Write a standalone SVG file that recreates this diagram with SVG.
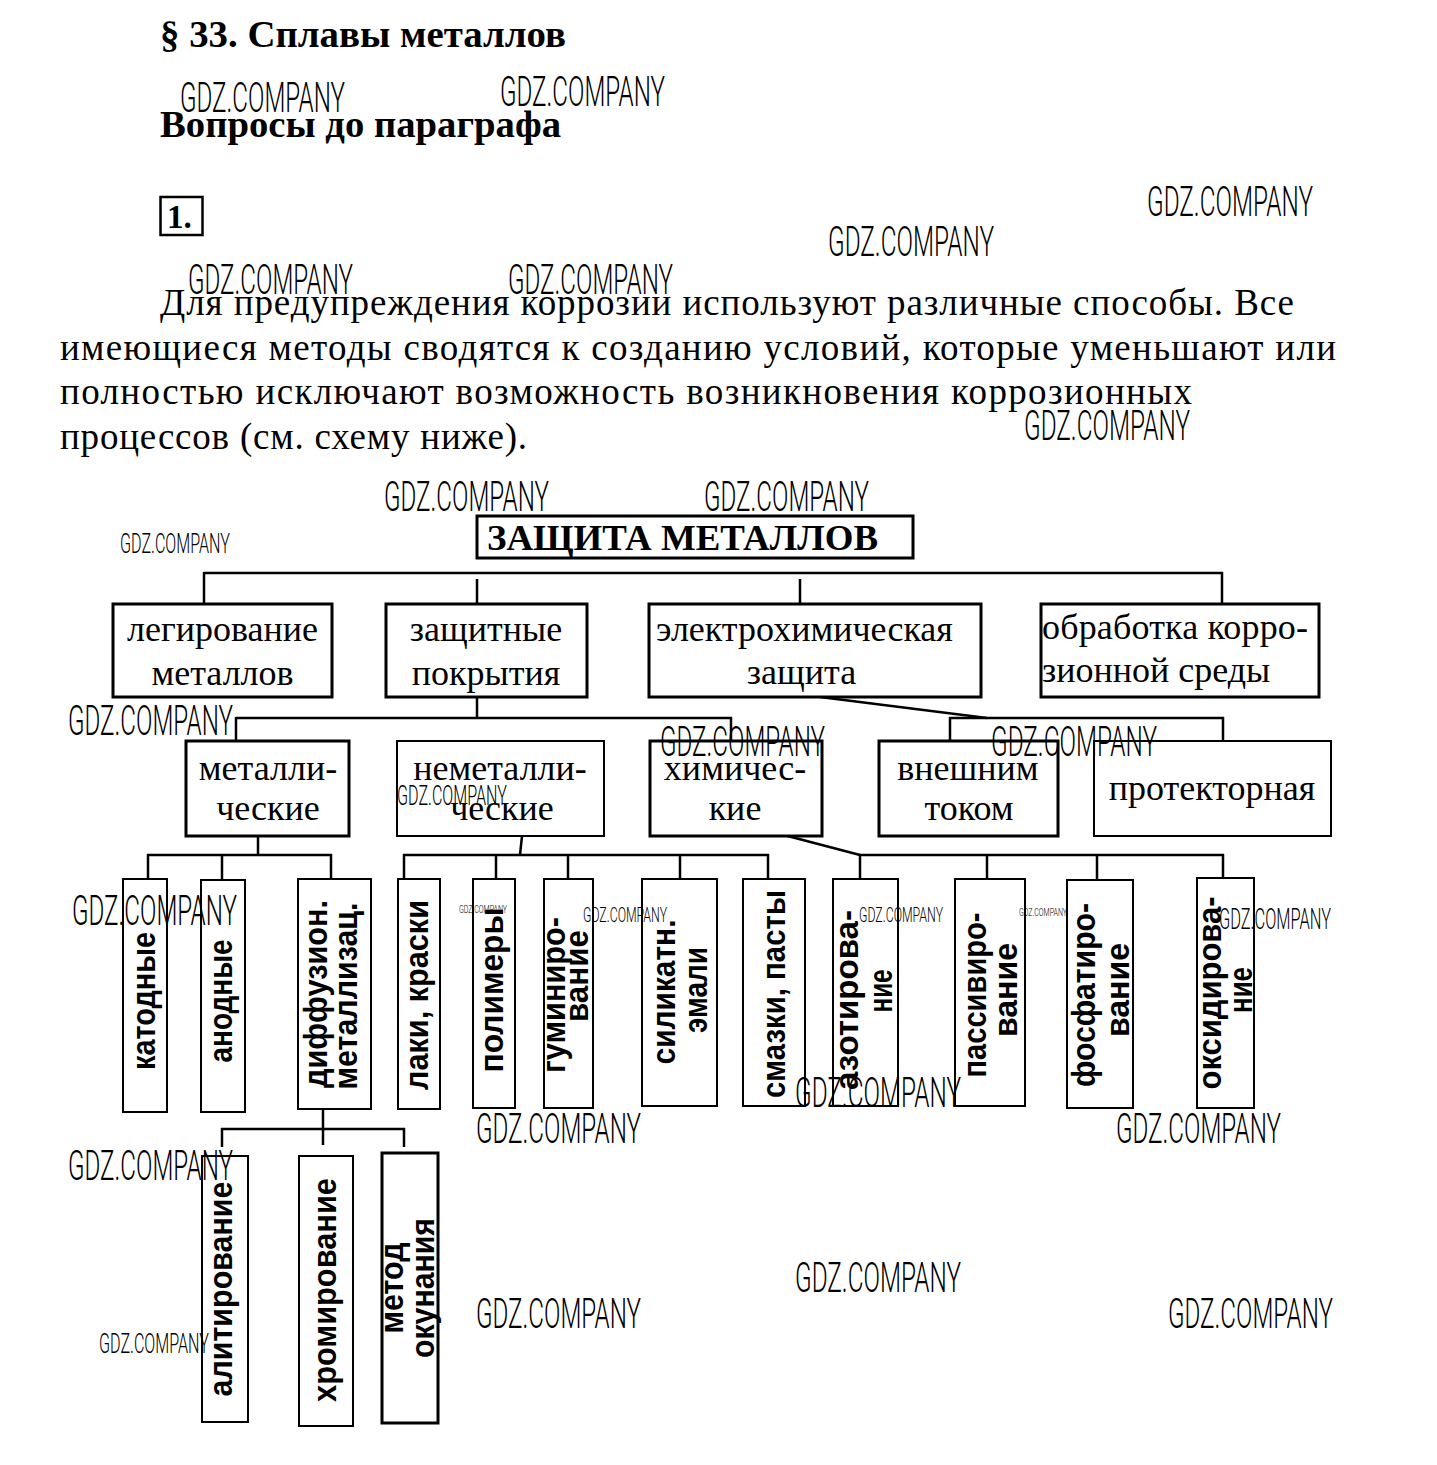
<svg xmlns="http://www.w3.org/2000/svg" width="1437" height="1465" viewBox="0 0 1437 1465">
<style>
.bg{fill:#fff}
.box{fill:#fff;stroke:#000;stroke-width:3}
.thin{stroke-width:2}
.conn line,.conn polyline{stroke:#000;stroke-width:2.5;fill:none}
.h{font-family:"Liberation Serif","Times New Roman",serif;font-weight:bold;fill:#000}
.p{font-family:"Liberation Serif","Times New Roman",serif;font-size:37px;fill:#000}
.t1{font-family:"Liberation Serif","Times New Roman",serif;font-size:36px;fill:#000;text-anchor:middle}
.tv{font-family:"Liberation Sans",Arial,sans-serif;font-weight:bold;font-size:33px;fill:#000;text-anchor:middle}
.wm{font-family:Roboto,"Liberation Sans",sans-serif;font-weight:300;fill:#000}
</style>
<rect class="bg" x="0" y="0" width="1437" height="1465"/>

<g id="heading">
<text class="h" x="160" y="47" font-size="37" textLength="406" lengthAdjust="spacingAndGlyphs">§ 33. Сплавы металлов</text>
<text class="h" x="160" y="137" font-size="37" textLength="401" lengthAdjust="spacingAndGlyphs">Вопросы до параграфа</text>
<rect x="160.5" y="197" width="42" height="38" fill="none" stroke="#000" stroke-width="2.5"/>
<text class="h" x="167" y="228" font-size="33" fill="#0a1030">1.</text>
</g>

<g id="paragraph">
<text class="p" x="160" y="315" textLength="1134" lengthAdjust="spacing">Для предупреждения коррозии используют различные способы. Все</text>
<text class="p" x="60" y="360" textLength="1276" lengthAdjust="spacing">имеющиеся методы сводятся к созданию условий, которые уменьшают или</text>
<text class="p" x="60" y="404" textLength="1132" lengthAdjust="spacing">полностью исключают возможность возникновения коррозионных</text>
<text class="p" x="60" y="449" textLength="467" lengthAdjust="spacing">процессов (см. схему ниже).</text>
</g>

<g id="connectors" class="conn">
<line x1="204" y1="573" x2="1223" y2="573"/>
<line x1="204" y1="572" x2="204" y2="604"/>
<line x1="477" y1="579" x2="477" y2="604"/>
<line x1="800" y1="579" x2="800" y2="604"/>
<line x1="1222" y1="572" x2="1222" y2="604"/>

<line x1="477" y1="697" x2="477" y2="718"/>
<line x1="236" y1="718" x2="732" y2="718"/>
<line x1="236" y1="717" x2="236" y2="741"/>
<line x1="731" y1="717" x2="731" y2="741"/>
<line x1="820" y1="697" x2="987" y2="718"/>
<line x1="949" y1="718" x2="1224" y2="718"/>
<line x1="950" y1="717" x2="950" y2="741"/>
<line x1="1223" y1="717" x2="1223" y2="741"/>

<line x1="258" y1="836" x2="258" y2="855"/>
<line x1="147" y1="855" x2="332" y2="855"/>
<line x1="148" y1="854" x2="148" y2="879"/>
<line x1="222" y1="854" x2="222" y2="879"/>
<line x1="331" y1="854" x2="331" y2="879"/>

<line x1="522" y1="836" x2="520" y2="855"/>
<line x1="403" y1="855" x2="769" y2="855"/>
<line x1="404" y1="854" x2="404" y2="879"/>
<line x1="496" y1="854" x2="496" y2="879"/>
<line x1="568" y1="854" x2="568" y2="879"/>
<line x1="680" y1="854" x2="680" y2="879"/>
<line x1="768" y1="854" x2="768" y2="879"/>

<line x1="780" y1="834" x2="860" y2="855"/>
<line x1="859" y1="855" x2="1224" y2="855"/>
<line x1="860" y1="854" x2="860" y2="879"/>
<line x1="987" y1="854" x2="987" y2="879"/>
<line x1="1097" y1="854" x2="1097" y2="879"/>
<line x1="1223" y1="854" x2="1223" y2="879"/>

<line x1="323" y1="1109" x2="323" y2="1145"/>
<line x1="221" y1="1129" x2="405" y2="1129"/>
<line x1="222" y1="1128" x2="222" y2="1147"/>
<line x1="404" y1="1128" x2="404" y2="1147"/>
</g>

<g id="root">
<rect class="box" x="477" y="516" width="436" height="42"/>
<text class="h" x="487" y="550" font-size="35" textLength="391" lengthAdjust="spacingAndGlyphs">ЗАЩИТА  МЕТАЛЛОВ</text>
</g>

<g id="n-leg">
<rect class="box" x="113" y="604" width="219" height="93"/>
<text class="t1" x="222.5" y="641">легирование</text>
<text class="t1" x="222.5" y="685">металлов</text>
</g>
<g id="n-pokr">
<rect class="box" x="386" y="604" width="201" height="93"/>
<text class="t1" x="486" y="641">защитные</text>
<text class="t1" x="486" y="685">покрытия</text>
</g>
<g id="n-elchem">
<rect class="box" x="649" y="604" width="332" height="93"/>
<text class="t1" x="804.5" y="641">электрохимическая</text>
<text class="t1" x="801.5" y="684">защита</text>
</g>
<g id="n-sreda">
<rect class="box" x="1041" y="604" width="278" height="93"/>
<text class="t1" x="1042" y="639" style="text-anchor:start" textLength="266" lengthAdjust="spacing">обработка корро-</text>
<text class="t1" x="1042" y="682" style="text-anchor:start">зионной среды</text>
</g>

<g id="n-metal">
<rect class="box" x="186" y="741" width="163" height="95"/>
<text class="t1" x="268" y="780">металли-</text>
<text class="t1" x="268" y="820">ческие</text>
</g>
<g id="n-nemetal">
<rect class="box thin" x="397" y="741" width="207" height="95"/>
<text class="t1" x="500" y="780">неметалли-</text>
<text class="t1" x="502" y="820">ческие</text>
</g>
<g id="n-chem">
<rect class="box" x="650" y="741" width="172" height="95"/>
<text class="t1" x="735" y="780">химичес-</text>
<text class="t1" x="735" y="820">кие</text>
</g>
<g id="n-tok">
<rect class="box" x="879" y="741" width="179" height="95"/>
<text class="t1" x="968" y="780">внешним</text>
<text class="t1" x="969" y="820">током</text>
</g>
<g id="n-protektor">
<rect class="box thin" x="1094" y="741" width="237" height="95"/>
<text class="t1" x="1212" y="800">протекторная</text>
</g>

<g id="n-katod">
<rect class="box thin" x="123" y="879" width="44" height="233"/>
<text class="tv" transform="translate(145,1001) rotate(-90)" dy="0.3em" textLength="138" lengthAdjust="spacingAndGlyphs">катодные</text>
</g>
<g id="n-anod">
<rect class="box thin" x="201" y="880" width="44" height="232"/>
<text class="tv" transform="translate(222,1001) rotate(-90)" dy="0.3em" textLength="123" lengthAdjust="spacingAndGlyphs">анодные</text>
</g>
<g id="n-diff">
<rect class="box thin" x="298" y="879" width="73" height="230"/>
<text class="tv" transform="translate(317,994) rotate(-90)" dy="0.3em" textLength="188" lengthAdjust="spacingAndGlyphs">диффузион.</text>
<text class="tv" transform="translate(347,996) rotate(-90)" dy="0.3em" textLength="187" lengthAdjust="spacingAndGlyphs">металлизац.</text>
</g>
<g id="n-laki">
<rect class="box thin" x="398" y="879" width="42" height="230"/>
<text class="tv" transform="translate(418,995) rotate(-90)" dy="0.3em" textLength="190" lengthAdjust="spacingAndGlyphs">лаки, краски</text>
</g>
<g id="n-polim">
<rect class="box thin" x="473" y="879" width="42" height="229"/>
<text class="tv" transform="translate(493,990) rotate(-90)" dy="0.3em" textLength="165" lengthAdjust="spacingAndGlyphs">полимеры</text>
</g>
<g id="n-gum">
<rect class="box thin" x="544" y="879" width="49" height="229"/>
<text class="tv" transform="translate(555,995) rotate(-90)" dy="0.3em" textLength="156" lengthAdjust="spacingAndGlyphs">гуминиро-</text>
<text class="tv" transform="translate(578,976) rotate(-90)" dy="0.3em" textLength="92" lengthAdjust="spacingAndGlyphs">вание</text>
</g>
<g id="n-silik">
<rect class="box thin" x="642" y="879" width="75" height="227"/>
<text class="tv" transform="translate(665,992) rotate(-90)" dy="0.3em" textLength="145" lengthAdjust="spacingAndGlyphs">силикатн.</text>
<text class="tv" transform="translate(697,990) rotate(-90)" dy="0.3em" textLength="86" lengthAdjust="spacingAndGlyphs">эмали</text>
</g>
<g id="n-smaz">
<rect class="box thin" x="743" y="879" width="62" height="227"/>
<text class="tv" transform="translate(775,994) rotate(-90)" dy="0.3em" textLength="208" lengthAdjust="spacingAndGlyphs">смазки, пасты</text>
</g>
<g id="n-azot">
<rect class="box thin" x="833" y="879" width="65" height="227"/>
<text class="tv" transform="translate(848,1000) rotate(-90)" dy="0.3em" textLength="180" lengthAdjust="spacingAndGlyphs">азотирова-</text>
<text class="tv" transform="translate(882,991) rotate(-90)" dy="0.3em" textLength="43" lengthAdjust="spacingAndGlyphs">ние</text>
</g>
<g id="n-pass">
<rect class="box thin" x="955" y="879" width="70" height="227"/>
<text class="tv" transform="translate(976,995) rotate(-90)" dy="0.3em" textLength="165" lengthAdjust="spacingAndGlyphs">пассивиро-</text>
<text class="tv" transform="translate(1007,990) rotate(-90)" dy="0.3em" textLength="94" lengthAdjust="spacingAndGlyphs">вание</text>
</g>
<g id="n-fosf">
<rect class="box thin" x="1067" y="880" width="66" height="228"/>
<text class="tv" transform="translate(1085,995) rotate(-90)" dy="0.3em" textLength="184" lengthAdjust="spacingAndGlyphs">фосфатиро-</text>
<text class="tv" transform="translate(1119,990) rotate(-90)" dy="0.3em" textLength="94" lengthAdjust="spacingAndGlyphs">вание</text>
</g>
<g id="n-oksid">
<rect class="box thin" x="1197" y="878" width="57" height="230"/>
<text class="tv" transform="translate(1211,993) rotate(-90)" dy="0.3em" textLength="193" lengthAdjust="spacingAndGlyphs">оксидирова-</text>
<text class="tv" transform="translate(1242,990) rotate(-90)" dy="0.3em" textLength="46" lengthAdjust="spacingAndGlyphs">ние</text>
</g>

<g id="n-alit">
<rect class="box thin" x="202" y="1156" width="46" height="266"/>
<text class="tv" transform="translate(222,1289) rotate(-90)" dy="0.3em" textLength="215" lengthAdjust="spacingAndGlyphs">алитирование</text>
</g>
<g id="n-hrom">
<rect class="box thin" x="299" y="1156" width="54" height="270"/>
<text class="tv" transform="translate(326,1290) rotate(-90)" dy="0.3em" textLength="224" lengthAdjust="spacingAndGlyphs">хромирование</text>
</g>
<g id="n-okun">
<rect class="box" x="382" y="1153" width="56" height="270"/>
<text class="tv" transform="translate(393,1288) rotate(-90)" dy="0.3em" textLength="91" lengthAdjust="spacingAndGlyphs">метод</text>
<text class="tv" transform="translate(424,1288) rotate(-90)" dy="0.3em" textLength="140" lengthAdjust="spacingAndGlyphs">окунания</text>
</g>

<g id="watermarks" class="wm">
<text x="180" y="112" font-size="42" textLength="165" lengthAdjust="spacingAndGlyphs">GDZ.COMPANY</text>
<text x="500" y="106" font-size="42" textLength="165" lengthAdjust="spacingAndGlyphs">GDZ.COMPANY</text>
<text x="1147" y="216" font-size="42" textLength="166" lengthAdjust="spacingAndGlyphs">GDZ.COMPANY</text>
<text x="828" y="256" font-size="42" textLength="166" lengthAdjust="spacingAndGlyphs">GDZ.COMPANY</text>
<text x="188" y="294" font-size="42" textLength="165" lengthAdjust="spacingAndGlyphs">GDZ.COMPANY</text>
<text x="508" y="294" font-size="42" textLength="165" lengthAdjust="spacingAndGlyphs">GDZ.COMPANY</text>
<text x="1024" y="440" font-size="42" textLength="166" lengthAdjust="spacingAndGlyphs">GDZ.COMPANY</text>
<text x="384" y="511" font-size="42" textLength="165" lengthAdjust="spacingAndGlyphs">GDZ.COMPANY</text>
<text x="704" y="511" font-size="42" textLength="165" lengthAdjust="spacingAndGlyphs">GDZ.COMPANY</text>
<text x="120" y="553" font-size="28" textLength="110" lengthAdjust="spacingAndGlyphs">GDZ.COMPANY</text>
<text x="68" y="735" font-size="42" textLength="165" lengthAdjust="spacingAndGlyphs">GDZ.COMPANY</text>
<text x="660" y="756" font-size="42" textLength="165" lengthAdjust="spacingAndGlyphs">GDZ.COMPANY</text>
<text x="991" y="756" font-size="42" textLength="166" lengthAdjust="spacingAndGlyphs">GDZ.COMPANY</text>
<text x="397" y="805" font-size="28" textLength="110" lengthAdjust="spacingAndGlyphs">GDZ.COMPANY</text>
<text x="72" y="925" font-size="42" textLength="165" lengthAdjust="spacingAndGlyphs">GDZ.COMPANY</text>
<text x="459" y="913" font-size="11" textLength="48" lengthAdjust="spacingAndGlyphs">GDZ.COMPANY</text>
<text x="583" y="922" font-size="20" textLength="84" lengthAdjust="spacingAndGlyphs">GDZ.COMPANY</text>
<text x="859" y="922" font-size="20" textLength="84" lengthAdjust="spacingAndGlyphs">GDZ.COMPANY</text>
<text x="1019" y="916" font-size="11" textLength="48" lengthAdjust="spacingAndGlyphs">GDZ.COMPANY</text>
<text x="1219" y="929" font-size="30" textLength="112" lengthAdjust="spacingAndGlyphs">GDZ.COMPANY</text>
<text x="795" y="1107" font-size="42" textLength="166" lengthAdjust="spacingAndGlyphs">GDZ.COMPANY</text>
<text x="476" y="1143" font-size="42" textLength="165" lengthAdjust="spacingAndGlyphs">GDZ.COMPANY</text>
<text x="1116" y="1143" font-size="42" textLength="165" lengthAdjust="spacingAndGlyphs">GDZ.COMPANY</text>
<text x="68" y="1180" font-size="42" textLength="165" lengthAdjust="spacingAndGlyphs">GDZ.COMPANY</text>
<text x="795" y="1292" font-size="42" textLength="166" lengthAdjust="spacingAndGlyphs">GDZ.COMPANY</text>
<text x="476" y="1328" font-size="42" textLength="165" lengthAdjust="spacingAndGlyphs">GDZ.COMPANY</text>
<text x="1168" y="1328" font-size="42" textLength="165" lengthAdjust="spacingAndGlyphs">GDZ.COMPANY</text>
<text x="99" y="1353" font-size="28" textLength="110" lengthAdjust="spacingAndGlyphs">GDZ.COMPANY</text>
</g>
</svg>
